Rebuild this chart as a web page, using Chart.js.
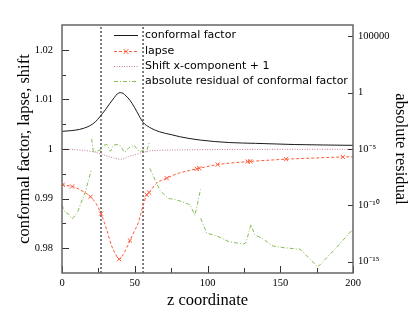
<!DOCTYPE html>
<html>
<head>
<meta charset="utf-8">
<script src="https://cdn.jsdelivr.net/npm/chart.js@4.4.0/dist/chart.umd.min.js"></script>
<style>
  html, body { margin: 0; padding: 0; background: #fff; }
  #wrap { width: 415px; height: 311px; }
</style>
</head>
<body>
<div id="wrap"><canvas id="chart" width="415" height="311"></canvas></div>
<script>
// values
const seriesNames = ['conformal factor', 'lapse', 'Shift x-component + 1', 'absolute residual of conformal factor'];

const cfZ   = [0, 6, 12, 19, 23, 26, 30, 33, 36, 38, 40, 42, 44, 46.7, 50, 53, 56, 60, 67, 75, 81, 95, 115, 133, 160, 200];
const cfVal = [1.00355, 1.0037, 1.00395, 1.00467, 1.0055, 1.00648, 1.008, 1.00923, 1.0104, 1.0111, 1.01137, 1.0112, 1.0107, 1.00983, 1.0083, 1.0067, 1.00528, 1.0044, 1.00347, 1.0029, 1.00247, 1.0018, 1.0013, 1.00114, 1.0009, 1.00074];

const lapseZ   = [0, 0.5, 7, 13, 19.6, 24, 26.8, 30.7, 34.2, 37, 39.3, 42.1, 44.5, 46.7, 50, 52.4, 55.9, 58.2, 59.8, 65, 72, 80, 92.6, 94.4, 107, 127.6, 129.4, 154, 175, 193, 200];
const lapseVal = [0.99285, 0.9928, 0.99244, 0.9917, 0.99037, 0.9887, 0.98696, 0.98375, 0.9804, 0.9787, 0.97779, 0.97874, 0.9801, 0.98155, 0.9836, 0.9851, 0.98877, 0.99077, 0.99123, 0.9931, 0.99412, 0.9951, 0.996, 0.99612, 0.99686, 0.99746, 0.9975, 0.99794, 0.9982, 0.9984, 0.99845];
const lapseMarkZ = [0.5, 7, 19.6, 26.8, 39.3, 46.7, 58.2, 59.8, 72, 92.6, 94.4, 107, 127.6, 129.4, 154, 193];

const shiftZ   = [0, 10, 15.8, 22, 27.3, 32, 36.4, 39.9, 42.5, 45.6, 50, 53.6, 60, 68, 76, 90, 127, 200];
const shiftVal = [1.0, 0.99985, 0.9997, 0.9994, 0.99894, 0.9985, 0.99814, 0.99793, 0.99805, 0.99846, 0.9988, 0.99914, 0.9996, 0.99975, 0.9998, 0.99985, 0.99992, 0.99994];

// residual, one array pair per grid patch
const resZ1 = [0, 2, 4.5, 7, 10.5, 13, 16, 20.3];
const resV1 = [1.07e-10, 2.6e-11, 1.7e-11, 6.2e-12, 2.1e-11, 1.6e-10, 1.5e-9, 1.7e-7];
const resZ2 = [20.4, 21.6, 26.1, 28.9, 30.9, 33.3, 35.4, 37.8, 39.9, 43.0, 46.0, 49.5, 53.3, 56.0, 58.1, 60.2];
const resV2 = [7.9e-5, 5.0e-6, 7.9e-6, 2.2e-5, 2.5e-5, 6.3e-6, 2.2e-5, 2.5e-5, 2.0e-5, 5.0e-6, 1.3e-5, 2.2e-5, 5.6e-6, 7.9e-6, 5.6e-6, 5.0e-5];
const resZ3 = [60.3, 67.4, 72.9, 78.8, 82.5, 88, 91.4, 95.2];
const resV3 = [1.9e-7, 2.1e-9, 4.3e-10, 3.0e-10, 2.1e-10, 1.1e-10, 1.3e-11, 2.6e-9];
const resZ4 = [95.3, 99.4, 107.4, 114.8, 124.7, 126.5, 129.9, 132.3, 137.5, 145, 153.3, 163.6, 175.8, 187.6, 200];
const resV4 = [7.1e-12, 3.5e-13, 1.7e-13, 6.0e-14, 3.7e-14, 5.0e-14, 2.1e-12, 2.6e-13, 1.2e-13, 2.5e-14, 1.7e-14, 1.3e-14, 3.4e-16, 1.3e-14, 7.9e-13];

const boundaryZ = [26.8, 55.7];

const zTicks = [0, 50, 100, 150, 200];
const zMinor = [25, 75, 125, 175];
const leftTicks  = [0.98, 0.99, 1, 1.01, 1.02];
const leftLabels = ['0.98', '0.99', '1', '1.01', '1.02'];
const leftMinor  = [0.985, 0.995, 1.005, 1.015];
const resTicks  = [1e-15, 1e-10, 1e-5, 1, 1e5];
const resLabels = ['10\u207B\u00B9\u2075', '10\u207B\u00B9\u2070', '10\u207B\u2075', '1', '100000'];

const pts = (xs, ys) => xs.map((x, i) => ({ x: x, y: ys[i] }));

const colCf = '#1a1a1a';
const colLapse = '#ff5a3a';
const colShift = '#c47a9c';
const colRes = '#86bd55';

const datasets = [
    { label: seriesNames[0], data: pts(cfZ, cfVal), yAxisID: 'y', borderColor: colCf, borderWidth: 1,
      pointRadius: 0, cubicInterpolationMode: 'monotone' },
    { label: seriesNames[1], data: pts(lapseZ, lapseVal), yAxisID: 'y', borderColor: colLapse, borderWidth: 1,
      borderDash: [3, 2], pointRadius: 0, cubicInterpolationMode: 'monotone' },
    { label: 'lapse markers', data: lapseMarkZ.map(z => ({ x: z, y: lapseVal[lapseZ.indexOf(z)] })), yAxisID: 'y',
      showLine: false, pointStyle: 'crossRot', pointRadius: 3, borderColor: colLapse, backgroundColor: colLapse, pointBorderWidth: 1 },
    { label: seriesNames[2], data: pts(shiftZ, shiftVal), yAxisID: 'y', borderColor: colShift, borderWidth: 1,
      borderDash: [1, 1.5], pointRadius: 0, cubicInterpolationMode: 'monotone' }
];
[[resZ1, resV1], [resZ2, resV2], [resZ3, resV3], [resZ4, resV4]].forEach(([zs, vs]) => {
    datasets.push({ label: seriesNames[3], data: pts(zs, vs), yAxisID: 'y2', borderColor: colRes, borderWidth: 1,
        borderDash: [4, 2, 1, 2], pointRadius: 0, tension: 0 });
});
boundaryZ.forEach(z => {
    datasets.push({ label: 'boundary', data: [{ x: z, y: 0.975 }, { x: z, y: 1.025 }], yAxisID: 'y',
        borderColor: '#000', borderWidth: 1, borderDash: [2, 2], pointRadius: 0 });
});

// legend rows: dataset index used for the line style
const legendRows = [0, 1, 3, 4];

const framePlugin = {
    id: 'frame',
    afterDatasetsDraw(chart) {
        const { ctx, chartArea: a, scales } = chart;
        ctx.save();
        ctx.strokeStyle = '#333';
        ctx.lineWidth = 1;
        ctx.setLineDash([]);
        ctx.beginPath();
        const seg = (x1, y1, x2, y2) => { ctx.moveTo(x1, y1); ctx.lineTo(x2, y2); };
        leftTicks.forEach(v => { const y = Math.round(scales.y.getPixelForValue(v)) + 0.5; seg(a.left, y, a.left + 7, y); });
        leftMinor.forEach(v => { const y = Math.round(scales.y.getPixelForValue(v)) + 0.5; seg(a.left, y, a.left + 4, y); });
        zTicks.forEach(v => { const x = Math.round(scales.x.getPixelForValue(v)) + 0.5; seg(x, a.bottom, x, a.bottom - 7); });
        zMinor.forEach(v => { const x = Math.round(scales.x.getPixelForValue(v)) + 0.5; seg(x, a.bottom, x, a.bottom - 5); });
        resTicks.forEach(v => { const y = Math.round(scales.y2.getPixelForValue(v)) + 0.5; seg(a.right, y, a.right - 5, y); });
        ctx.stroke();

        ctx.strokeStyle = '#666';
        ctx.lineWidth = 1.5;
        ctx.strokeRect(a.left, a.top, a.right - a.left, a.bottom - a.top);

        // legend
        ctx.font = '11px "DejaVu Sans"';
        ctx.textBaseline = 'middle';
        ctx.textAlign = 'left';
        legendRows.forEach((di, i) => {
            const ds = chart.data.datasets[di];
            const y = Math.round(a.top + 10.3 + i * 15.3) + 0.5;
            const x0 = a.left + 52, x1 = a.left + 76;
            ctx.strokeStyle = ds.borderColor;
            ctx.lineWidth = 1;
            ctx.setLineDash(ds.borderDash || []);
            ctx.beginPath();
            ctx.moveTo(x0, y);
            ctx.lineTo(x1, y);
            ctx.stroke();
            ctx.setLineDash([]);
            if (di === 1) {
                const cx = (x0 + x1) / 2, r = 2.5;
                ctx.beginPath();
                ctx.moveTo(cx - r, y - r); ctx.lineTo(cx + r, y + r);
                ctx.moveTo(cx - r, y + r); ctx.lineTo(cx + r, y - r);
                ctx.stroke();
            }
            ctx.fillStyle = '#000';
            ctx.fillText(ds.label, a.left + 83, y);
        });
        ctx.restore();
    }
};

const serif = 'Liberation Serif';

new Chart(document.getElementById('chart').getContext('2d'), {
    type: 'line',
    data: { datasets: datasets },
    options: {
        responsive: false,
        animation: false,
        layout: { padding: { top: 25, left: 0, right: 0, bottom: 0 } },
        plugins: { legend: { display: false }, tooltip: { enabled: false } },
        scales: {
            x: {
                type: 'linear', min: 0, max: 200,
                grid: { display: false, drawTicks: false }, border: { display: false },
                afterBuildTicks: s => { s.ticks = zTicks.map(v => ({ value: v })); },
                afterFit: s => { s.height = 38; },
                ticks: { font: { family: serif, size: 10.5 }, color: '#000', padding: 4, maxRotation: 0 },
                title: { display: true, text: 'z coordinate', font: { family: serif, size: 16.5 }, color: '#000',
                         padding: { top: 0, bottom: 0 } }
            },
            y: {
                type: 'linear', position: 'left', min: 0.975, max: 1.025,
                grid: { display: false, drawTicks: false }, border: { display: false },
                afterBuildTicks: s => { s.ticks = leftTicks.map(v => ({ value: v })); },
                afterFit: s => { s.width = 62; },
                ticks: { font: { family: serif, size: 10.5 }, color: '#000', padding: 9,
                         callback: (v, i) => leftLabels[i] },
                title: { display: true, text: 'conformal factor, lapse, shift', font: { family: serif, size: 16.5 }, color: '#000',
                         padding: { top: 15, bottom: 0 } }
            },
            y2: {
                type: 'logarithmic', position: 'right', min: 1e-16, max: 1e6,
                grid: { display: false, drawTicks: false }, border: { display: false },
                afterBuildTicks: s => { s.ticks = resTicks.map(v => ({ value: v })); },
                afterFit: s => { s.width = 62; },
                ticks: { font: { family: serif, size: 10.5 }, color: '#000', padding: 5,
                         callback: (v, i) => resLabels[i] },
                title: { display: true, text: 'absolute residual', font: { family: serif, size: 16.5 }, color: '#000',
                         padding: { top: 5, bottom: 0 } }
            }
        }
    },
    plugins: [framePlugin]
});
</script>
</body>
</html>
